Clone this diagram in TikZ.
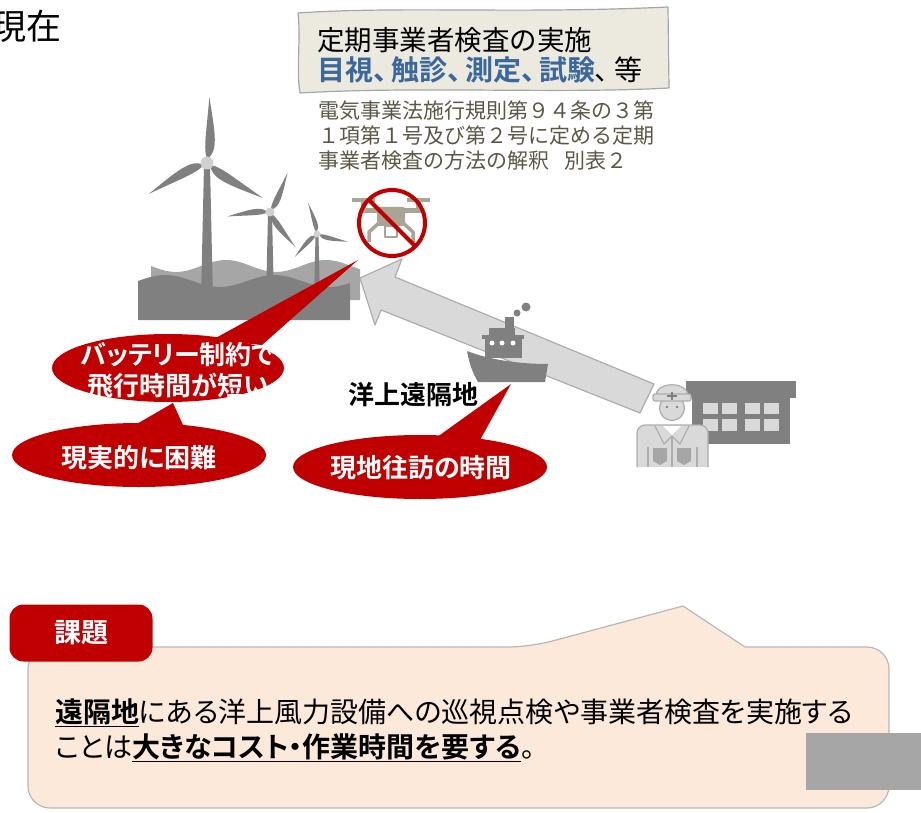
\documentclass[tikz,border=0pt]{standalone}
\usepackage{fontspec}
\setmainfont{Noto Sans CJK JP}[BoldFont={Noto Sans CJK JP Bold}]
\newfontfamily\jpprop{Noto Sans CJK JP}[BoldFont={Noto Sans CJK JP Bold},RawFeature=+palt]
\usetikzlibrary{shapes.geometric}
\definecolor{alertred}{HTML}{C00000}
\definecolor{inspblue}{HTML}{3A679C}
\definecolor{lawtext}{HTML}{5B5747}
\definecolor{towergray}{HTML}{808080}
\definecolor{seagray}{HTML}{A6A6A6}
\definecolor{hubgray}{HTML}{D0D0D0}
\definecolor{dronegray}{HTML}{A8A496}
\definecolor{paper}{HTML}{ECEADF}
\definecolor{issuefill}{HTML}{FCE9DA}
\definecolor{lightfill}{HTML}{D9D9D9}
\definecolor{lineg}{HTML}{ADADAD}
\tikzset{
  blade/.pic={\fill (0.06,0) .. controls (0.18,0.17) and (0.45,0.11) .. (1,0) .. controls (0.5,-0.02) and (0.2,-0.07) .. (0.06,0) -- cycle;},
  bubble/.style={fill=alertred},
  bubbletext/.style={text=white,align=center,inner sep=0,font=\jpprop\bfseries\fontsize{26}{31}\selectfont},
  worker/.style={fill=lightfill,draw=lineg,line width=1.2pt}
}
\begin{document}
\begin{tikzpicture}[x=1pt,y=-1pt,line join=round,font=\jpprop]
\useasboundingbox (0,0) rectangle (921,813);

\node[anchor=west,inner sep=0,font=\fontsize{35}{38}\selectfont] (now) at (-9,26) {現在};

\fill[seagray] (151,300) -- plot[domain=151:360,smooth,samples=40] (\x,{266+6*sin((\x-151)*3.6)}) -- (360,300) -- cycle;

\fill[towergray] (204,165) -- (210,165) -- (213,300) -- (201,300) -- cycle;
\fill[towergray] (268,214) -- (272,214) -- (274,300) -- (266,300) -- cycle;
\fill[towergray] (315.5,236) -- (318.5,236) -- (320,300) -- (314,300) -- cycle;
\foreach \a in {-88,32,152} \pic[towergray,shift={(207,163)},rotate=-\a,scale=66] {blade};
\foreach \a in {-66,54,174} \pic[towergray,shift={(270,212)},rotate=-\a,scale=43] {blade};
\foreach \a in {-106,14,134} \pic[towergray,shift={(317,234)},rotate=-\a,scale=32] {blade};
\fill[hubgray] (207,163) circle[radius=6.5];
\fill[hubgray] (270,212) circle[radius=4.5];
\fill[hubgray] (317,234) circle[radius=3.5];

\fill[towergray] (138,320) -- plot[domain=138:350,smooth,samples=40] (\x,{281-6*sin((\x-138)*3.3)}) -- (350,320) -- cycle;

\filldraw[fill=lightfill,draw=lineg,line width=1.2pt] (360,278) -- (402,259) -- (395,277) -- (654,384) -- (640,413) -- (381,310) -- (375,325) -- cycle;

\fill[towergray] (467,351) .. controls (490,360) and (520,364) .. (548,364) -- (545,382) -- (478,382) .. controls (472,372) and (469,362) .. (467,351) -- cycle;
\fill[towergray] (485,338) rectangle (522,358);
\fill[towergray] (482,335) rectangle (524,339);
\fill[towergray] (489,328) rectangle (515,336);
\fill[towergray] (505,317) rectangle (514,328);
\fill[towergray] (517,313) circle[radius=3.5];
\fill[towergray] (526,307) circle[radius=4.5];
\foreach \px in {492,502,513} \fill[white] (\px,343) circle[radius=2.5];

\fill[towergray] (686,381) rectangle (796,398);
\fill[towergray] (692,398) rectangle (790,444);
\foreach \wx in {703,722,745,764} {
  \fill[lightfill] (\wx,403) rectangle ++(15,11);
  \fill[lightfill] (\wx,419) rectangle ++(15,12);
}

\filldraw[worker,rounded corners=8] (637,467) -- (637,425) -- (708,425) -- (708,467);
\fill[white] (663,426) -- (672,435) -- (681,426) -- cycle;
\draw[lineg,line width=1.2pt] (655,426) -- (664,444) -- (672,436) -- (680,444) -- (689,426);
\draw[lineg,line width=1.2pt] (672,436) -- (672,467);
\draw[lineg,line width=1.2pt] (648,447) -- (648,467) (697,447) -- (697,467);
\fill[seagray] (653,448) -- (667,448) -- (667,461) -- (660,465) -- (653,461) -- cycle;
\fill[seagray] (677,448) -- (691,448) -- (691,461) -- (684,465) -- (677,461) -- cycle;
\filldraw[worker] (672,408) circle[radius=12.5];
\fill[towergray] (667,407) circle[radius=1.3] (677,407) circle[radius=1.3];
\filldraw[worker] (656,396) .. controls (656,381) and (688,381) .. (688,396) -- cycle;
\filldraw[worker,rounded corners=2] (653,394) rectangle (691,401);
\draw[towergray,line width=1.2pt] (667,396) -- (677,396) (672,392) -- (672,400);

\fill[dronegray] (352,198) rectangle (375,202);
\fill[dronegray] (407,198) rectangle (430,202);
\fill[dronegray] (361,202) rectangle (366,213);
\fill[dronegray] (416,202) rectangle (421,213);
\fill[dronegray] (361,208) rectangle (421,213);
\fill[dronegray,rounded corners=2] (377,207) rectangle (405,226);
\draw[dronegray,line width=3.5pt] (380,222) -- (369,232) -- (369,242) (402,222) -- (413,232) -- (413,242);
\draw[dronegray,line width=2.5pt] (385,226) rectangle (397,237);
\draw[alertred,line width=4pt] (392,223) circle[radius=33];
\draw[alertred,line width=4pt] (368.7,199.7) -- (415.3,246.3);

\fill[bubble] (212,340) -- (358,260) -- (262,345) -- cycle;
\fill[bubble] (168,368) ellipse[x radius=116,y radius=34];
\fill[bubble] (135,425) -- (173,403) -- (183,425) -- cycle;
\fill[bubble] (139,455) ellipse[x radius=127,y radius=32];
\fill[bubble] (433,440) -- (511,384) -- (480,440) -- cycle;
\fill[bubble] (420,467) ellipse[x radius=127,y radius=32];
\node[bubbletext] (battery) at (178,370) {バッテリー制約で\\飛行時間が短い};
\node[bubbletext] (hard) at (139,458) {現実的に困難};
\node[bubbletext] (travel) at (421,468) {現地往訪の時間};

\node[inner sep=0,font=\jpprop\bfseries\fontsize{26}{30}\selectfont] (remote) at (413,395) {洋上遠隔地};

\draw[fill=paper,draw=seagray,line width=1.2pt] (298,13) .. controls (400,6) and (520,14) .. (668,7) -- (669,88) .. controls (560,94) and (420,86) .. (300,93) .. controls (296,70) and (301,40) .. cycle;
\node[anchor=west,inner sep=0,font=\fontsize{27.5}{30}\selectfont] (plan) at (317,40) {定期事業者検査の実施};
\node[anchor=west,inner sep=0,text=inspblue,font=\jpprop\bfseries\fontsize{28}{30}\selectfont] (methods) at (317,70) {目視、\kern4pt 触診、\kern4pt 測定、\kern4pt 試験\textcolor{black}{\mdseries 、\kern5pt 等}};
\node[anchor=north west,align=left,inner sep=0,text=lawtext,font=\fontsize{21}{25}\selectfont] (law) at (318,101) {電気事業法施行規則第９４条の３第\\１項第１号及び第２号に定める定期\\事業者検査の方法の解釈\kern15pt 別表２};

\draw[fill=issuefill,draw=seagray!80,line width=1.2pt,rounded corners=22] (28,720) -- (28,647) -- (530,647) [sharp corners] -- (683,606) -- (745,647) [rounded corners=22] -- (889,647) -- (889,808) -- (28,808) -- cycle;
\node[fill=alertred,rounded corners=14,minimum width=143,minimum height=57,text=white,font=\jpprop\bfseries\fontsize{27}{30}\selectfont] (task) at (81,633) {課題};
\node[anchor=west,inner sep=0,font=\jpprop\fontsize{28}{34}\selectfont] (issue1) at (55,713) {\underline{\textbf{遠隔地}}にある洋上風力設備への巡視点検や事業者検査を実施する};
\node[anchor=west,inner sep=0,font=\jpprop\fontsize{28}{34}\selectfont] (issue2) at (55,748) {ことは\underline{\textbf{大きなコスト・作業時間を要する}}。};

\fill[seagray] (806,733) rectangle (921,790);
\end{tikzpicture}
\end{document}
